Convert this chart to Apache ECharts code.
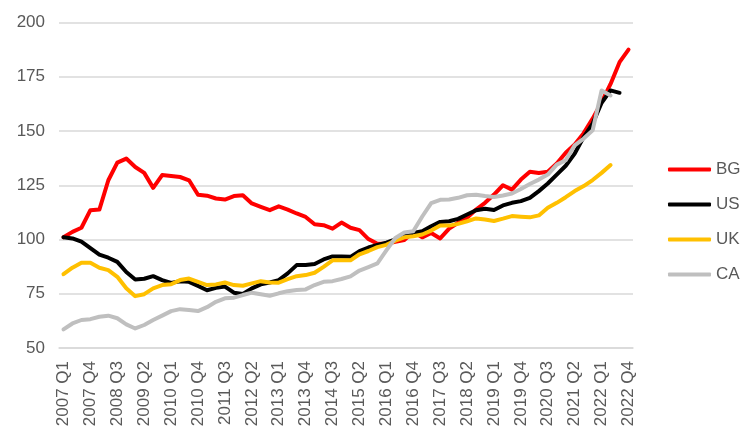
<!DOCTYPE html>
<html>
<head>
<meta charset="utf-8">
<script src="https://cdn.jsdelivr.net/npm/echarts@6/dist/echarts.min.js"></script>
<style>
html,body{margin:0;padding:0;background:#fff;}
#chart{width:753px;height:438px;}
</style>
</head>
<body>
<div id="chart"></div>
<script>
const years = [2007,2008,2009,2010,2011,2012,2013,2014,2015,2016,2017,2018,2019,2020,2021,2022];
const quarters = ['Q1','Q2','Q3','Q4'];
const categories = [];
years.forEach(y => quarters.forEach(q => categories.push(y + ' ' + q)));

const seriesNames = ['BG','US','UK','CA'];
const seriesColors = ['#FF0000','#000000','#FFC000','#BFBFBF'];

const bg = [101,103.5,105.4,113.5,113.8,127.3,135.4,137.3,133.4,130.7,
            123.8,129.7,129.3,128.8,127.3,120.6,120.2,118.9,118.4,120,
            120.4,116.6,115,113.5,115.3,113.8,112,110.4,107,106.6,
            105,107.8,105.4,104.3,100.2,98,98,98.9,99.7,103.6,
            101,103,100.5,105,107.7,110,113.8,116.9,120.7,125,
            123,127.6,131.2,130.6,131.2,135,140,143.8,149,155.7,
            163.3,171.7,181.7,187.5];
const us = [101,100.5,99,96,93,91.6,89.7,85,81.6,81.9,
            83.1,81.3,80,80.8,80.5,78.6,76.6,77.7,78.3,75.5,
            74.9,77.5,79.3,80.2,81.3,84.4,88.2,88.2,88.7,90.8,
            92.2,92.2,92,94.6,96.3,97.5,98.5,100,101.8,103,
            103.8,106.1,108.1,108.4,109.5,111.5,113.5,114.2,113.6,115.7,
            116.9,117.7,119.2,122.3,125.8,129.9,134,139.6,147.2,153.4,
            163,168.7,167.6];
const uk = [84,87,89.3,89.3,87,85.9,82.8,77.5,73.9,74.8,
            77.5,79,79.4,81.3,82,80.5,79,79.3,80.2,79,
            78.7,79.8,80.8,80.2,80.1,81.7,83.1,83.6,84.7,87.4,
            90.4,90.4,90.4,93.2,94.7,96.5,97.5,99.5,101,101.5,
            102.3,104.1,106.4,106.4,107.2,108.4,109.7,109.2,108.5,109.6,
            110.8,110.5,110.2,111.1,114.6,116.9,119.5,122.3,124.6,127.4,
            130.7,134.3];
const ca = [58.6,61.3,62.9,63.3,64.4,64.9,63.7,60.9,59,60.6,
            62.9,64.9,67,67.9,67.5,67,68.8,71.3,72.9,73.2,
            74.4,75.5,74.8,74.1,75.2,76.2,76.7,77,79,80.5,
            80.8,81.8,83,85.7,87.3,89,95,100.7,103.2,103.8,
            110.6,116.8,118.3,118.4,119.2,120.4,120.6,120,119.6,120.3,
            121.2,123.3,125.6,127.6,129.9,134.5,136.5,143.4,146.5,150.3,
            168.7,166.4];
const seriesData = [bg, us, uk, ca];

const yMin = 50, yMax = 200, yStep = 25;

const chart = echarts.init(document.getElementById('chart'), null, {renderer:'canvas'});

const legends = seriesNames.map((n, k) => ({
  data: [{name: n, icon: 'roundRect', itemStyle: {color: seriesColors[k]}}],
  left: 663,
  top: 156 + k * 35,
  orient: 'vertical',
  itemWidth: 43,
  itemHeight: 4,
  itemGap: 5,
  selectedMode: false,
  textStyle: {fontFamily: 'Liberation Sans', fontSize: 17, color: '#595959', padding: [0,0,0,0]}
}));

chart.setOption({
  animation: false,
  backgroundColor: '#ffffff',
  grid: {left: 59, width: 574, top: 22.5, height: 325.5, containLabel: false},
  legend: legends,
  xAxis: {
    type: 'category',
    data: categories,
    boundaryGap: true,
    axisLine: {show: true, lineStyle: {color: '#D9D9D9', width: 1.5}},
    axisTick: {show: false},
    axisLabel: {
      interval: 2,
      rotate: 90,
      margin: 13,
      color: '#595959',
      fontFamily: 'Liberation Sans',
      fontSize: 17
    },
    splitLine: {show: false}
  },
  yAxis: {
    type: 'value',
    min: yMin, max: yMax, interval: yStep,
    axisLine: {show: false},
    axisTick: {show: false},
    axisLabel: {color: '#595959', fontFamily: 'Liberation Sans', fontSize: 17, margin: 14},
    splitLine: {lineStyle: {color: '#D9D9D9', width: 1.5}}
  },
  series: seriesData.map((d, k) => ({
    name: seriesNames[k],
    type: 'line',
    data: d,
    symbol: 'none',
    showSymbol: false,
    color: seriesColors[k],
    lineStyle: {width: 4, color: seriesColors[k], cap: 'round', join: 'round'},
    emphasis: {disabled: true}
  }))
});
</script>
</body>
</html>
